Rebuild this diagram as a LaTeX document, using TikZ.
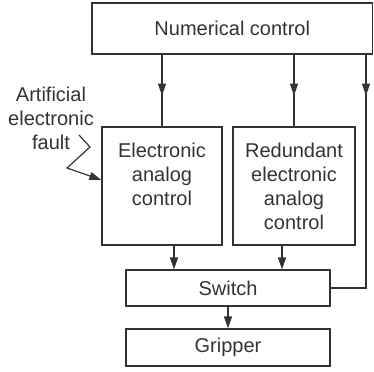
\documentclass[tikz,border=0pt]{standalone}
\usepackage{fontspec}
\setmainfont{Liberation Sans}
\usetikzlibrary{arrows.meta}
\usetikzlibrary{decorations.markings}
\tikzset{block/.style={draw, inner sep=0pt}}
\tikzset{blocktext/.style={anchor=north, align=center, inner sep=0pt, yshift=-8pt}}
\tikzset{arrowin/.style={-{Triangle[length=6pt,width=4pt]}}}
\tikzset{midarrow/.style={postaction={decorate}, decoration={markings, mark=at position 20.5pt with {\arrow{Triangle[length=6pt,width=4pt]}}}}}

\begin{document}
\begin{tikzpicture}[x=0.5pt, y=-0.5pt, line width=0.6pt, black!80]
\useasboundingbox (0,0) rectangle (374,371);
\node[block, minimum width=140.25pt, minimum height=25.5pt] (nc) at (232.25,28.5) {Numerical control};
\node[block, minimum width=60pt, minimum height=59pt] (eac) at (162,186) {};
\node[blocktext] (eactext) at (eac.north) {Electronic\\analog\\control};
\node[block, minimum width=61pt, minimum height=59pt] (rac) at (294,186) {};
\node[blocktext] (ractext) at (rac.north) {Redundant\\electronic\\analog\\control};
\node[block, minimum width=102pt, minimum height=18pt] (sw) at (228,288) {Switch};
\node[block, minimum width=102pt, minimum height=18.5pt] (gr) at (228,347.5) {Gripper};
\node[align=center, inner sep=0pt] (fault) at (51,118) {Artificial\\electronic\\fault};
\coordinate (fb) at (366,288);
\coordinate (z1) at (79,135);
\draw[midarrow] (nc.south -| eac.north) -- (eac.north);
\draw[midarrow] (nc.south -| rac.north) -- (rac.north);
\draw[midarrow] (nc.south -| fb) |- (sw.east);
\draw[arrowin] ([xshift=-27pt]sw.north |- eac.south) -- ([xshift=-27pt]sw.north);
\draw[arrowin] ([xshift=27pt]sw.north |- rac.south) -- ([xshift=27pt]sw.north);
\draw[arrowin] (sw.south) -- (gr.north);
\draw[arrowin] (z1) -- (90,147) -- (67,168) -- ([yshift=3pt]eac.west);
\end{tikzpicture}
\end{document}
